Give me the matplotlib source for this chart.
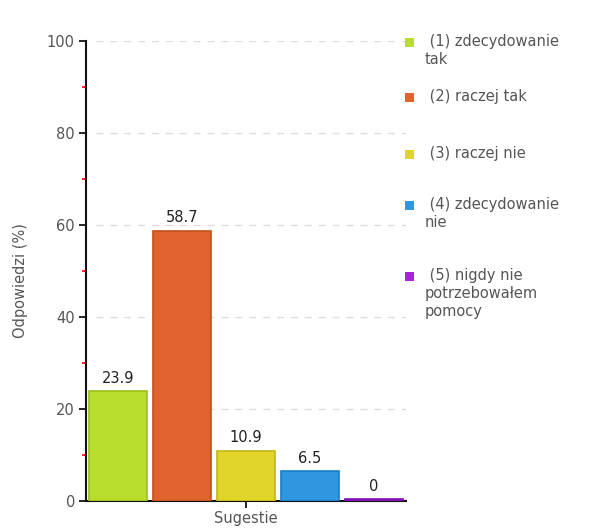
import matplotlib
matplotlib.use("Agg")
import matplotlib.pyplot as plt
from matplotlib.patches import Rectangle

categories = ["(1) zdecydowanie\ntak", "(2) raczej tak", "(3) raczej nie",
              "(4) zdecydowanie\nnie", "(5) nigdy nie\npotrzebowałem\npomocy"]
values = [23.9, 58.7, 10.9, 6.5, 0]
value_labels = ["23.9", "58.7", "10.9", "6.5", "0"]
colors = ["#b9dd2d", "#e0622c", "#e1d52b", "#2f97e0", "#a425e0"]
edges = ["#9cbd1c", "#c24f1c", "#c2b61a", "#1d7cc2", "#7a10b0"]
yticks = [0, 20, 40, 60, 80, 100]
xlabel = "Sugestie"
ylabel = "Odpowiedzi (%)"

plt.rcParams['font.family'] = ['DejaVu Sans']
fig = plt.figure(figsize=(6.11, 5.30), dpi=100)
ax = fig.add_axes([86/611, 1-501/530, 320/611, 460/530])

for i, (v, c, e) in enumerate(zip(values, colors, edges)):
    h = v if v > 0 else 0.35
    ax.bar(i, h, width=0.9, color=c, edgecolor=e, linewidth=1.2, zorder=3)
    ax.text(i, h + 1.2, value_labels[i], ha="center", va="bottom",
            fontsize=10.5, color="#222222", zorder=4)

ax.set_xlim(-0.5, len(values) - 0.5)
ax.set_ylim(0, 100)
ax.set_yticks(yticks)
ax.set_yticks([10, 30, 50, 70, 90], minor=True)
ax.tick_params(axis="y", which="major", direction="out", length=5, width=1.2,
               color="black", labelsize=10.5, labelcolor="#555555", pad=3)
ax.tick_params(axis="y", which="minor", direction="out", length=3, width=1.2,
               color="red")
ax.set_xticks([2])
ax.set_xticklabels([""])
ax.tick_params(axis="x", direction="out", length=5, width=1.2, color="black")
ax.set_xlabel(xlabel, fontsize=10.5, color="#555555")
ax.xaxis.set_label_coords(0.5, -0.022)
ax.set_ylabel(ylabel, fontsize=10.5, color="#555555")
ax.yaxis.set_label_coords(-0.18, 0.48)
for s in ["top", "right"]:
    ax.spines[s].set_visible(False)
for s in ["left", "bottom"]:
    ax.spines[s].set_linewidth(1.5)
    ax.spines[s].set_color("#111111")
for t in yticks[1:]:
    ax.axhline(t, xmin=0.03, xmax=1.0, color="#dddddd", linestyle=(0, (5, 5)),
               linewidth=1, zorder=1)

# legend
leg_y = [42, 97, 154, 205, 276]
for lab, c, yy in zip(categories, colors, leg_y):
    fig.patches.append(Rectangle((405/611, 1-(yy+5)/530), 9/611, 9/530,
                                 transform=fig.transFigure, facecolor=c,
                                 edgecolor="none"))
    lines = lab.split("\n")
    lab2 = " " + lines[0] + ("\n" + "\n".join(lines[1:]) if len(lines) > 1 else "")
    fig.text(425/611, 1-(yy-8)/530, lab2, ha="left", va="top", fontsize=10.5,
             color="#555555", linespacing=1.25)

fig.savefig("out.png", dpi=100)
